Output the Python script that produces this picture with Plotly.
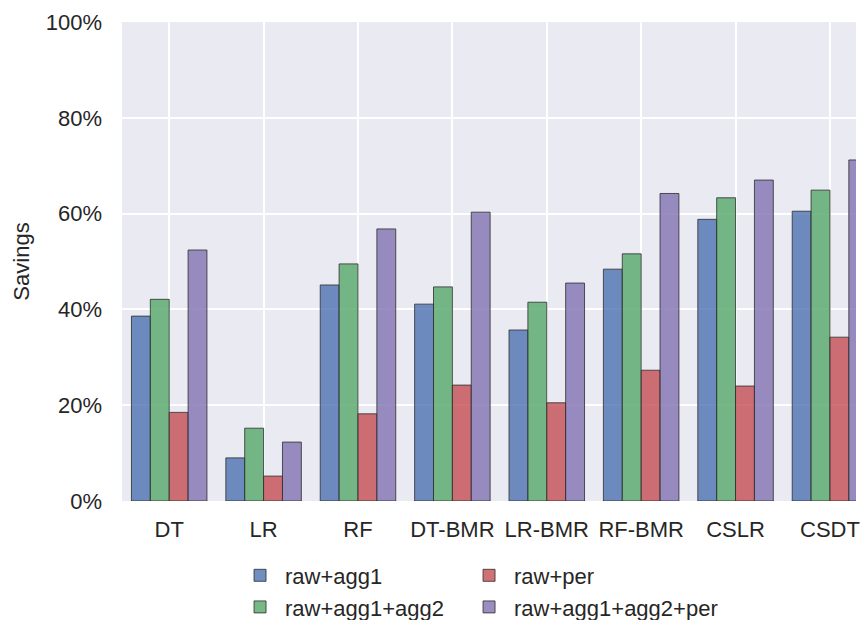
import plotly.graph_objects as go

categories = ["DT", "LR", "RF", "DT-BMR", "LR-BMR", "RF-BMR", "CSLR", "CSDT"]
raw_agg1 = [38.6, 9.0, 45.1, 41.1, 35.7, 48.4, 58.8, 60.5]
raw_agg1_agg2 = [42.1, 15.2, 49.5, 44.7, 41.5, 51.6, 63.3, 64.9]
raw_per = [18.5, 5.2, 18.2, 24.2, 20.5, 27.3, 24.0, 34.2]
raw_agg1_agg2_per = [52.4, 12.3, 56.8, 60.3, 45.5, 64.2, 67.0, 71.2]
y_ticks = [0, 20, 40, 60, 80, 100]
y_tick_labels = ["0%", "20%", "40%", "60%", "80%", "100%"]

series = [
    ("raw+agg1", raw_agg1, "rgba(76,114,176,0.8)", "legend"),
    ("raw+agg1+agg2", raw_agg1_agg2, "rgba(85,168,104,0.8)", "legend"),
    ("raw+per", raw_per, "rgba(196,78,82,0.8)", "legend2"),
    ("raw+agg1+agg2+per", raw_agg1_agg2_per, "rgba(129,114,178,0.8)", "legend2"),
]

fig = go.Figure()
for name, vals, color, leg in series:
    fig.add_trace(go.Bar(
        name=name, x=categories, y=vals,
        marker=dict(color=color,
                    line=dict(color="rgba(45,45,45,0.8)", width=1)),
        legend=leg,
    ))

FONT = "Liberation Sans, Arial, sans-serif"
legend_common = dict(orientation="v", xanchor="left", yanchor="top",
                     xref="paper", yref="container", y=0.107,
                     font=dict(size=22, family=FONT, color="#262626"),
                     bgcolor="rgba(0,0,0,0)", tracegroupgap=0, itemwidth=40,
                     traceorder="normal")
fig.update_layout(
    width=852, height=612,
    margin=dict(l=114, r=0, t=14, b=119),
    paper_bgcolor="white", plot_bgcolor="#EAEAF2",
    barmode="group", bargap=0.2, bargroupgap=0,
    font=dict(family=FONT, size=22, color="#262626"),
    xaxis=dict(range=[-0.5, 7.276], showgrid=True, gridcolor="white", gridwidth=2,
               tickfont=dict(size=22), ticks="", showline=False, zeroline=False,
               ticklabelstandoff=13),
    yaxis=dict(range=[0, 100], tickvals=y_ticks, ticktext=y_tick_labels,
               showgrid=True, gridcolor="white", gridwidth=2, zeroline=False,
               ticks="", showline=False, tickfont=dict(size=22),
               ticklabelstandoff=19,
               title=dict(text="Savings", font=dict(size=22), standoff=10)),
    legend=dict(x=0.154, **legend_common),
    legend2=dict(x=0.466, **legend_common),
    showlegend=True,
)

fig.write_html("out.html")
